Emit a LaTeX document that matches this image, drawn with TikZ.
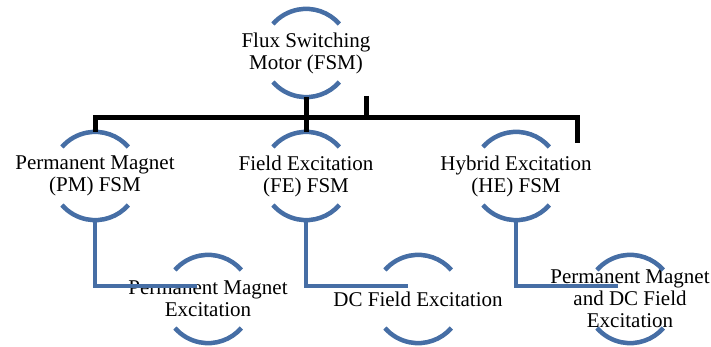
\documentclass[tikz,border=0pt]{standalone}
\usepackage{fontspec}
\setmainfont{Liberation Serif}
\usepackage{tikz}
\usetikzlibrary{positioning}

\definecolor{ringblue}{RGB}{70,110,165}

\begin{document}
\begin{tikzpicture}[
    x=1pt, y=1pt,
    ring/.style={
        circle, minimum size=88pt, inner sep=0pt
    },
    every label/.style={
        align=center, inner sep=0pt,
        font=\fontsize{21}{22}\selectfont
    },
    arcline/.style={draw=ringblue, line width=4.5pt},
    tree/.style={draw=black, line width=5pt},
    elbow/.style={draw=ringblue, line width=4.5pt},
]
\useasboundingbox (0,0) rectangle (711,347);

% Kreise
\node[ring, label={center:Flux Switching\\Motor (FSM)}] (fsm) at (306,294) {};
\node[ring, label={center:Permanent Magnet\\(PM) FSM}]  (pm)  at (95,171)  {};
\node[ring, label={center:Field Excitation\\(FE) FSM}]  (fe)  at (306,171) {};
\node[ring, label={center:Hybrid Excitation\\(HE) FSM}] (he)  at (516,171) {};
\node[ring, label={center:Permanent Magnet\\Excitation}] (pmx) at (208,48) {};
\node[ring, label={center:DC Field Excitation}]          (dcx) at (418,48) {};
\node[ring, label={center:Permanent Magnet\\and DC Field\\Excitation}] (hex) at (630,48) {};

% Boegen
\foreach \n in {fsm,pm,fe,he,pmx,dcx,hex}{
    \draw[arcline] (\n.41) arc (41:139:44pt);
    \draw[arcline] (\n.-41) arc (-41:-139:44pt);
}

% Schwarze Leitungen
\coordinate (barR) at (577,204);
\coordinate (stub) at (366,251);
\draw[tree] (fsm.south) -- (fe.north);
\draw[tree] (pm.north) -- ++(0,14) -| (barR);
\draw[tree] (stub) -- ++(0,-22);

% Blaue Winkel
\draw[elbow] (pm.south) |- ([xshift=-11pt, yshift=13pt]pmx.center);
\draw[elbow] (fe.south) |- ([xshift=-10pt, yshift=13pt]dcx.center);
\draw[elbow] (he.south) |- ([xshift=-12pt, yshift=13pt]hex.center);

\end{tikzpicture}
\end{document}
